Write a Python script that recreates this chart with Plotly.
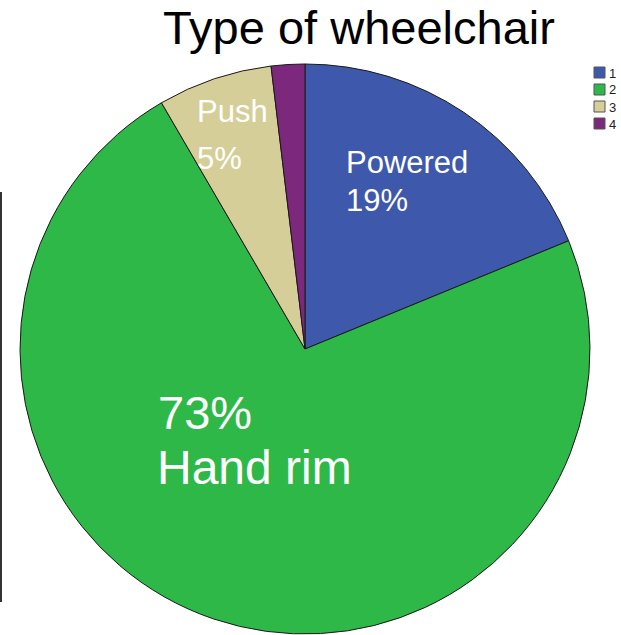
import plotly.graph_objects as go

W, H = 621, 635
categories = ["1", "2", "3", "4"]
values = [18.8, 72.8, 6.5, 1.9]
colors = ["#3E58AC", "#2EB848", "#D6CE98", "#7C287D"]

def px(x):
    return x / W

def py(y):
    return 1 - y / H

fig = go.Figure(go.Pie(
    labels=categories, values=values, sort=False, direction="clockwise", rotation=0,
    marker=dict(colors=colors, line=dict(color="#1a1a1a", width=1)),
    textinfo="none", hoverinfo="label+percent", showlegend=False,
    domain=dict(x=[px(20), px(590)], y=[py(634), py(64)]),
))

font = "Liberation Sans, Arial, sans-serif"
ann = [
    dict(text="Powered", x=px(344), y=py(162), size=31, color="white", xanchor="left"),
    dict(text="19%", x=px(344), y=py(200), size=31, color="white", xanchor="left"),
    dict(text="Push", x=px(195), y=py(111.5), size=31, color="white", xanchor="left"),
    dict(text="5%", x=px(195), y=py(158), size=31, color="white", xanchor="left"),
    dict(text="73%", x=px(156), y=py(412.5), size=47, color="white", xanchor="left"),
    dict(text="Hand rim", x=px(155), y=py(467.5), size=48, color="white", xanchor="left"),
]
annotations = [dict(text=a["text"], x=a["x"], y=a["y"], xref="paper", yref="paper",
                    xanchor=a["xanchor"], yanchor="middle", showarrow=False,
                    font=dict(size=a["size"], color=a["color"], family=font))
               for a in ann]
annotations.append(dict(text="Type of wheelchair", x=px(359), y=1, xref="paper", yref="paper",
                        xanchor="center", yanchor="top", showarrow=False, borderpad=0,
                        font=dict(size=47, color="black", family=font)))

shapes = [dict(type="line", xref="paper", yref="paper", x0=px(1), x1=px(1),
               y0=py(192), y1=py(602), line=dict(color="#333333", width=2))]

# manual legend
leg_top = [67, 84, 101, 118]
for cat, col, t in zip(categories, colors, leg_top):
    shapes.append(dict(type="rect", xref="paper", yref="paper",
                       x0=px(594), x1=px(605), y0=py(t + 11), y1=py(t),
                       fillcolor=col, line=dict(color="#555555", width=1)))
    annotations.append(dict(text=cat, x=px(607), y=py(t + 6), xref="paper", yref="paper",
                            xanchor="left", yanchor="middle", showarrow=False,
                            font=dict(size=13, color="#222222", family=font)))

fig.update_layout(
    width=W, height=H, margin=dict(l=0, r=0, t=0, b=0, autoexpand=False),
    paper_bgcolor="white", plot_bgcolor="white",
    font=dict(family=font),
    showlegend=False,
    annotations=annotations,
    shapes=shapes,
)
fig.write_html("out.html", config={"displayModeBar": False},
               post_script="document.body.style.margin='0';document.body.style.padding='0';")
